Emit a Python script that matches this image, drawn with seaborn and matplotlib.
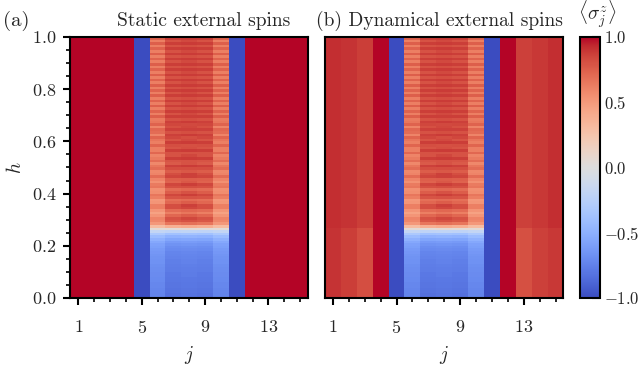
import numpy as np
import pandas as pd
import seaborn as sns
import matplotlib.pyplot as plt

# %% Data: <sigma_j^z> on a 15-site chain vs field h (rows h = 0.005 ... 0.995)

sites = list(range(1, 16))
h_vals = [round(0.005 + 0.01 * i, 3) for i in range(100)]

# inner chain, centre site (j = 8)
col_center = [
    -0.82, -0.82, -0.81, -0.81, -0.80, -0.80, -0.79, -0.79, -0.78, -0.78,
    -0.77, -0.77, -0.76, -0.75, -0.75, -0.74, -0.73, -0.72, -0.70, -0.68,
    -0.65, -0.61, -0.55, -0.47, -0.36, -0.20, 0.05, 0.40, 0.68, 0.80,
    0.84, 0.76, 0.66, 0.72, 0.84, 0.86, 0.76, 0.70, 0.80, 0.87,
    0.80, 0.72, 0.82, 0.87, 0.78, 0.76, 0.86, 0.86, 0.78, 0.82,
    0.88, 0.80, 0.80, 0.88, 0.84, 0.80, 0.88, 0.82, 0.81, 0.88,
    0.83, 0.82, 0.88, 0.82, 0.86, 0.84, 0.83, 0.88, 0.82, 0.87,
    0.83, 0.88, 0.82, 0.88, 0.83, 0.88, 0.82, 0.88, 0.83, 0.88,
    0.82, 0.88, 0.83, 0.88, 0.82, 0.88, 0.83, 0.88, 0.82, 0.88,
    0.83, 0.88, 0.82, 0.88, 0.83, 0.88, 0.82, 0.88, 0.83, 0.88,
]
# inner chain, sites j = 7 and 9
col_mid = [
    -0.83, -0.83, -0.82, -0.82, -0.81, -0.81, -0.80, -0.80, -0.79, -0.79,
    -0.78, -0.78, -0.77, -0.76, -0.76, -0.75, -0.74, -0.73, -0.71, -0.69,
    -0.66, -0.62, -0.56, -0.48, -0.37, -0.21, 0.04, 0.38, 0.66, 0.78,
    0.80, 0.72, 0.62, 0.70, 0.82, 0.82, 0.72, 0.68, 0.79, 0.84,
    0.76, 0.70, 0.81, 0.84, 0.74, 0.75, 0.85, 0.82, 0.76, 0.82,
    0.86, 0.77, 0.79, 0.87, 0.80, 0.80, 0.87, 0.79, 0.82, 0.87,
    0.79, 0.84, 0.86, 0.80, 0.86, 0.81, 0.84, 0.86, 0.80, 0.87,
    0.80, 0.87, 0.80, 0.87, 0.80, 0.87, 0.80, 0.87, 0.80, 0.87,
    0.80, 0.87, 0.80, 0.87, 0.80, 0.87, 0.80, 0.87, 0.80, 0.87,
    0.80, 0.87, 0.80, 0.87, 0.80, 0.87, 0.80, 0.87, 0.80, 0.87,
]
# inner chain, edge sites j = 6 and 10
col_edge = [
    -0.74, -0.74, -0.73, -0.73, -0.72, -0.72, -0.71, -0.71, -0.70, -0.70,
    -0.69, -0.69, -0.68, -0.67, -0.67, -0.66, -0.65, -0.64, -0.62, -0.60,
    -0.58, -0.54, -0.49, -0.42, -0.32, -0.18, 0.04, 0.30, 0.50, 0.58,
    0.60, 0.52, 0.46, 0.52, 0.62, 0.62, 0.52, 0.50, 0.62, 0.66,
    0.56, 0.54, 0.66, 0.64, 0.54, 0.60, 0.70, 0.60, 0.58, 0.70,
    0.66, 0.58, 0.70, 0.64, 0.60, 0.72, 0.62, 0.62, 0.73, 0.62,
    0.66, 0.73, 0.60, 0.70, 0.72, 0.60, 0.74, 0.66, 0.64, 0.75,
    0.62, 0.74, 0.62, 0.75, 0.62, 0.74, 0.62, 0.75, 0.62, 0.74,
    0.62, 0.75, 0.62, 0.74, 0.62, 0.75, 0.62, 0.74, 0.62, 0.75,
    0.62, 0.74, 0.62, 0.75, 0.62, 0.74, 0.62, 0.75, 0.62, 0.74,
]
col_up = [1.0] * 100
col_down = [-1.0] * 100

# dynamical external spins (value below / above h ~ 0.27)
dyn_j1 = [0.90] * 27 + [0.92] * 73
dyn_j2 = [0.87] * 27 + [0.90] * 73
dyn_j3 = [0.82] * 27 + [0.87] * 73
dyn_j13 = [0.81] * 27 + [0.86] * 73
dyn_j14 = [0.86] * 27 + [0.89] * 73
dyn_j15 = [0.89] * 27 + [0.92] * 73

static_cols = [col_up, col_up, col_up, col_up, col_down,
               col_edge, col_mid, col_center, col_mid, col_edge,
               col_down, col_up, col_up, col_up, col_up]
dynamic_cols = [dyn_j1, dyn_j2, dyn_j3, col_up, col_down,
                col_edge, col_mid, col_center, col_mid, col_edge,
                col_down, col_up, dyn_j13, dyn_j14, dyn_j15]

df_static = pd.DataFrame(np.column_stack(static_cols), index=h_vals, columns=sites)
df_dynamic = pd.DataFrame(np.column_stack(dynamic_cols), index=h_vals, columns=sites)

# %% Plot

sns.set_style("ticks")
plt.rcParams['font.family'] = ['cmr10', 'DejaVu Serif']
plt.rcParams['mathtext.fontset'] = 'cm'
plt.rcParams['axes.unicode_minus'] = False

fig = plt.figure(figsize=(6.42, 3.71), dpi=100)
ax_a = fig.add_axes([0.1098, 0.1968, 0.3699, 0.7035])
ax_b = fig.add_axes([0.5062, 0.1968, 0.3715, 0.7035])
cax = fig.add_axes([0.9034, 0.1968, 0.0312, 0.7035])

N = len(h_vals)
sns.heatmap(df_static, ax=ax_a, cmap='coolwarm', vmin=-1, vmax=1,
            cbar=False, xticklabels=False, yticklabels=False)
sns.heatmap(df_dynamic, ax=ax_b, cmap='coolwarm', vmin=-1, vmax=1,
            cbar_ax=cax, xticklabels=False, yticklabels=False)

major_j = [1, 5, 9, 13]
for ax in (ax_a, ax_b):
    ax.set_ylim(0, N)
    ax.set_xlim(0, len(sites))
    for s in ax.spines.values():
        s.set_visible(True)
        s.set_linewidth(1.5)
        s.set_color('black')
    ax.set_xticks([j - 0.5 for j in major_j])
    ax.set_xticklabels([f'${j}$' for j in major_j])
    ax.set_xticks([j - 0.5 for j in sites if j not in major_j], minor=True)
    ax.tick_params(which='major', direction='out', length=5, width=1.5,
                   labelsize=13, color='black', pad=5)
    ax.tick_params(axis='x', which='major', pad=10)
    ax.tick_params(which='minor', direction='out', length=3, width=1.2,
                   color='black')
    ax.set_xlabel('$j$', fontsize=14, labelpad=6)
    ax.set_ylabel('')

h_major = [0.0, 0.2, 0.4, 0.6, 0.8, 1.0]
h_minor = [k * 0.05 for k in range(21) if k % 4 != 0]
ax_a.set_yticks([h * N for h in h_major])
ax_a.set_yticklabels([f'${h:.1f}$' for h in h_major], rotation=0)
ax_a.set_yticks([h * N for h in h_minor], minor=True)
ax_a.set_ylabel('$h$', fontsize=14, labelpad=5)
ax_b.set_yticks([])
ax_b.set_yticks([], minor=True)

cb = ax_b.collections[0].colorbar
cb.outline.set_linewidth(1.5)
cb.outline.set_edgecolor('black')
cb_major = [-1.0, -0.5, 0.0, 0.5, 1.0]
cb.set_ticks(cb_major, labels=[f'${v:.1f}$' for v in cb_major])
cb.set_ticks([v / 10 for v in range(-10, 11) if v % 5 != 0], minor=True)
cax.tick_params(which='major', direction='in', length=6, width=1.5,
                labelsize=12, pad=3)
cax.tick_params(which='minor', direction='in', length=3.5, width=1.2)

fig.text(0.004, 0.93, '(a)', fontsize=15)
fig.text(0.452, 0.93, 'Static external spins', fontsize=14, ha='right')
fig.text(0.492, 0.93, '(b) Dynamical external spins', fontsize=14)
fig.text(0.900, 0.945, r'$\langle\sigma_j^z\rangle$', fontsize=14)

fig.savefig('out.png', dpi=100)
